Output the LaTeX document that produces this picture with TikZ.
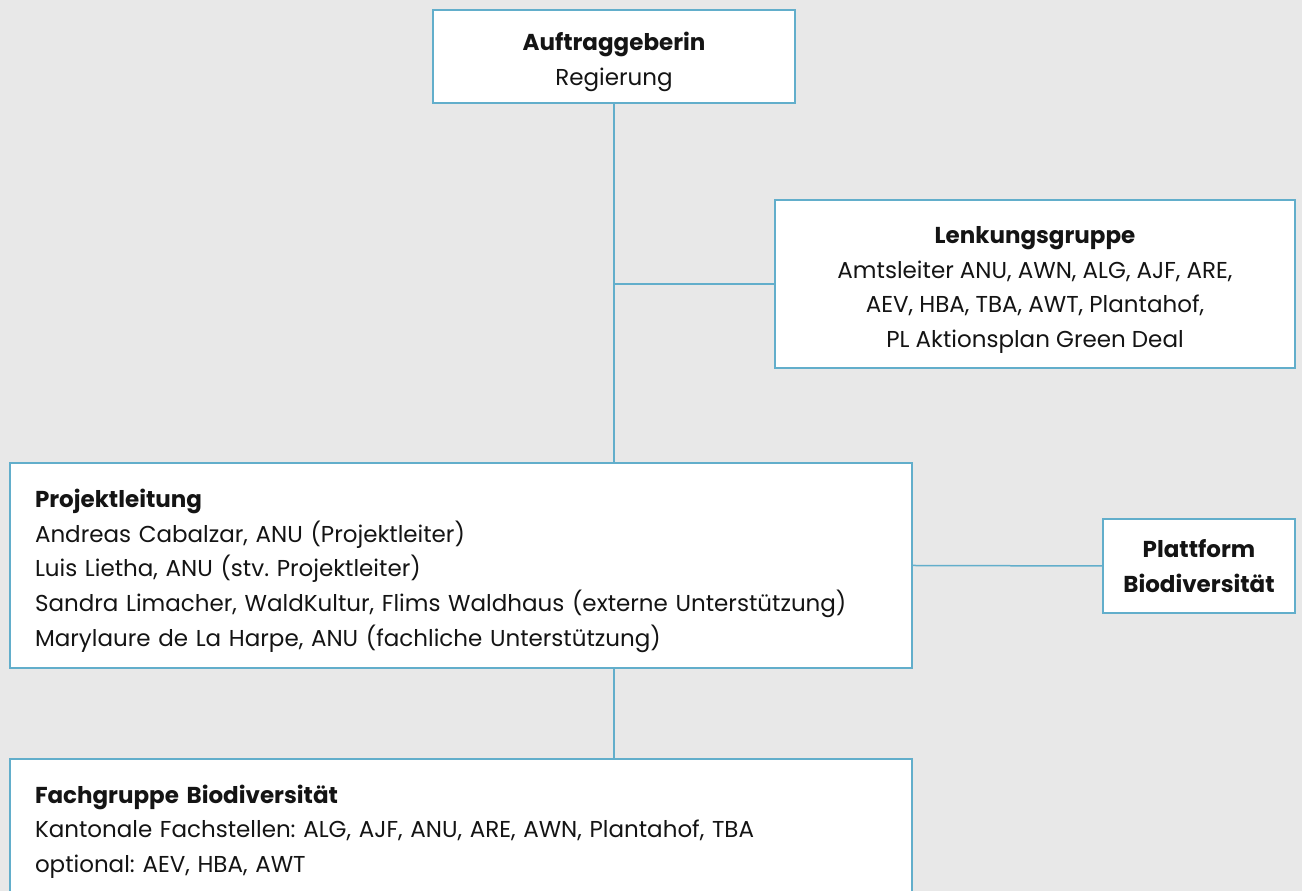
\documentclass[tikz,border=0pt]{standalone}
\usepackage{fontspec}
\setmainfont{Poppins}
\usepackage{xcolor}
\usetikzlibrary{calc,positioning}
\definecolor{color_bg_default}{HTML}{E8E8E8}
\definecolor{color_line_default}{HTML}{62AECB}
\definecolor{color_text_default}{HTML}{141414}
\frenchspacing
\newcommand{\toppad}{\rule{0pt}{29pt}}

\begin{document}
\begin{tikzpicture}[x=1pt,y=1pt,
	orgbox/.style={draw=color_line_default,line width=1.5pt,fill=white,
		text=color_text_default,font=\fontsize{23}{34.7}\selectfont,inner sep=0pt},
	centerbox/.style={orgbox,align=center},
	leftbox/.style={orgbox,align=left,text width=#1,inner xsep=25pt},
	link/.style={draw=color_line_default,line width=1.5pt}]
				\useasboundingbox (0, 0) rectangle (1302, 891);
				\fill[color_bg_default] (0, 0) rectangle (1302, 891);
				\clip (0, 0) rectangle (1302, 891);

				% Boxes
				\node[centerbox,minimum width=362,minimum height=93] (auftrag) at (614, 834.5)
					{\toppad\textbf{Auftraggeberin}\\Regierung};
				\node[centerbox,minimum width=520,minimum height=168] (lenkung) at (1035, 607)
					{\toppad\textbf{Lenkungsgruppe}\\Amtsleiter ANU, AWN, ALG, AJF, ARE,\\AEV, HBA, TBA, AWT, Plantahof,\\PL Aktionsplan Green Deal};
				\node[leftbox=852,minimum height=205] (projekt) at (461, 325.5)
					{\toppad\textbf{Projektleitung}\\Andreas Cabalzar, ANU (Projektleiter)\\Luis Lietha, ANU (stv. Projektleiter)\\Sandra Limacher, WaldKultur, Flims Waldhaus (externe Unterstützung)\\Marylaure de La Harpe, ANU (fachliche Unterstützung)};
				\node[centerbox,minimum width=192,minimum height=94] (plattform) at (1199, 325)
					{\textbf{Plattform}\\\textbf{Biodiversität}};
				\node[leftbox=852,minimum height=145] (fach) at (461, 59.5)
					{\textbf{Fachgruppe Biodiversität}\\Kantonale Fachstellen: ALG, AJF, ANU, ARE, AWN, Plantahof, TBA\\optional: AEV, HBA, AWT};

				% Connectors
				\draw[link] (auftrag.south) -- (auftrag.south |- projekt.north);
				\draw[link] (lenkung.west) -- (auftrag.south |- lenkung.west);
				\draw[link] (projekt.east) -- (plattform.west);
				\draw[link] (projekt.south -| auftrag.south) -- (fach.north -| auftrag.south);
			\end{tikzpicture}
\end{document}
